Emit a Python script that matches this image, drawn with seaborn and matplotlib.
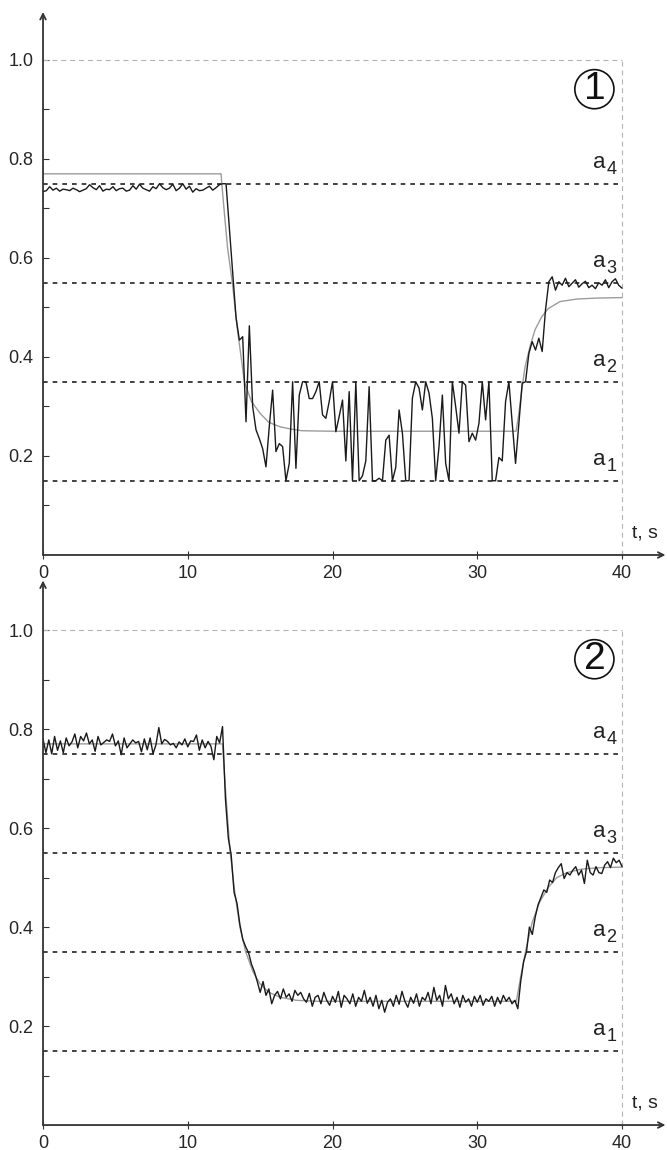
import numpy as np
import matplotlib
matplotlib.use("Agg")
import matplotlib.pyplot as plt
import seaborn as sns

# threshold levels a1..a4
levels = [0.15, 0.35, 0.55, 0.75]
level_names = ["1", "2", "3", "4"]
x_ticks = [0, 10, 20, 30, 40]
y_ticks = [0.2, 0.4, 0.6, 0.8, 1.0]
y_labels = ["0.2", "0.4", "0.6", "0.8", "1.0"]

# panel 1: measured signal (175 samples over 0..40 s)
p1_signal = [
    0.734, 0.736, 0.744, 0.737, 0.741, 0.735, 0.739, 0.738, 0.736, 0.741,
    0.738, 0.734, 0.737, 0.740, 0.748, 0.742, 0.738, 0.746, 0.735, 0.739,
    0.738, 0.744, 0.736, 0.740, 0.741, 0.735, 0.737, 0.746, 0.739, 0.749,
    0.741, 0.738, 0.735, 0.744, 0.740, 0.750, 0.742, 0.738, 0.741, 0.749,
    0.736, 0.741, 0.750, 0.739, 0.745, 0.733, 0.740, 0.736, 0.737, 0.741,
    0.745, 0.737, 0.742, 0.748, 0.750, 0.750, 0.660, 0.570, 0.480, 0.434,
    0.441, 0.269, 0.463, 0.300, 0.253, 0.235, 0.215, 0.178, 0.260, 0.333,
    0.209, 0.225, 0.219, 0.150, 0.185, 0.350, 0.175, 0.323, 0.350, 0.350,
    0.316, 0.316, 0.330, 0.350, 0.283, 0.276, 0.310, 0.350, 0.249, 0.280,
    0.313, 0.190, 0.330, 0.150, 0.350, 0.150, 0.160, 0.190, 0.340, 0.150,
    0.150, 0.155, 0.150, 0.232, 0.242, 0.150, 0.177, 0.293, 0.246, 0.150,
    0.150, 0.317, 0.350, 0.337, 0.293, 0.350, 0.327, 0.276, 0.150, 0.219,
    0.323, 0.185, 0.150, 0.350, 0.300, 0.246, 0.350, 0.343, 0.229, 0.246,
    0.232, 0.266, 0.350, 0.273, 0.350, 0.150, 0.150, 0.197, 0.190, 0.310,
    0.350, 0.266, 0.185, 0.266, 0.347, 0.350, 0.407, 0.431, 0.414, 0.438,
    0.411, 0.495, 0.552, 0.562, 0.535, 0.552, 0.545, 0.559, 0.542, 0.549,
    0.556, 0.541, 0.548, 0.553, 0.540, 0.545, 0.538, 0.550, 0.545, 0.556,
    0.540, 0.552, 0.558, 0.545, 0.539,
]
p1_time = np.linspace(0, 40, len(p1_signal))

# panel 1: model curve (grey)
p1_model_t = [0.0, 12.3, 12.35, 12.5, 12.75, 13.08, 13.41, 13.91, 14.4, 15.0,
              15.6, 16.37, 17.2, 17.9, 20.0, 32.68, 32.84, 33.07, 33.3, 33.64,
              33.99, 34.45, 34.91, 35.72, 36.87, 38.25, 40.0]
p1_model_y = [0.770, 0.770, 0.750, 0.700, 0.620, 0.550, 0.460, 0.350, 0.310, 0.286,
              0.268, 0.259, 0.254, 0.251, 0.250, 0.250, 0.279, 0.333, 0.380, 0.421,
              0.455, 0.481, 0.498, 0.512, 0.517, 0.519, 0.520]

# panel 2: measured signal (201 samples over 0..40 s)
p2_signal = [
    0.780, 0.752, 0.778, 0.750, 0.785, 0.757, 0.776, 0.752, 0.782, 0.766,
    0.774, 0.790, 0.762, 0.785, 0.776, 0.792, 0.770, 0.778, 0.755, 0.785,
    0.768, 0.773, 0.778, 0.775, 0.790, 0.766, 0.776, 0.748, 0.782, 0.762,
    0.770, 0.778, 0.772, 0.775, 0.754, 0.780, 0.758, 0.782, 0.750, 0.768,
    0.803, 0.770, 0.779, 0.775, 0.768, 0.771, 0.762, 0.774, 0.768, 0.780,
    0.764, 0.776, 0.775, 0.788, 0.757, 0.778, 0.762, 0.775, 0.765, 0.738,
    0.785, 0.772, 0.805, 0.660, 0.580, 0.545, 0.470, 0.448, 0.405, 0.375,
    0.360, 0.348, 0.325, 0.310, 0.290, 0.268, 0.290, 0.262, 0.275, 0.245,
    0.262, 0.270, 0.255, 0.275, 0.258, 0.265, 0.250, 0.272, 0.262, 0.268,
    0.255, 0.248, 0.266, 0.240, 0.258, 0.262, 0.245, 0.268, 0.252, 0.242,
    0.260, 0.248, 0.270, 0.238, 0.262, 0.255, 0.245, 0.265, 0.240, 0.258,
    0.250, 0.272, 0.246, 0.258, 0.240, 0.262, 0.235, 0.252, 0.228, 0.248,
    0.255, 0.240, 0.262, 0.244, 0.270, 0.250, 0.238, 0.258, 0.246, 0.265,
    0.240, 0.258, 0.252, 0.268, 0.245, 0.278, 0.252, 0.262, 0.240, 0.282,
    0.255, 0.265, 0.245, 0.258, 0.238, 0.262, 0.248, 0.255, 0.240, 0.260,
    0.248, 0.262, 0.242, 0.255, 0.250, 0.260, 0.240, 0.258, 0.245, 0.262,
    0.250, 0.258, 0.245, 0.252, 0.235, 0.290, 0.330, 0.350, 0.400, 0.385,
    0.420, 0.445, 0.460, 0.475, 0.470, 0.495, 0.490, 0.510, 0.520, 0.528,
    0.498, 0.510, 0.505, 0.515, 0.522, 0.505, 0.515, 0.488, 0.535, 0.510,
    0.505, 0.522, 0.510, 0.508, 0.525, 0.532, 0.520, 0.539, 0.530, 0.535,
    0.522,
]
p2_time = np.linspace(0, 40, len(p2_signal))

# panel 2: model curve (grey)
p2_model_t = [0.0, 12.4, 12.6, 12.9, 13.2, 13.6, 14.0, 14.5, 15.0, 15.6,
              16.4, 17.5, 19.0, 32.7, 33.0, 33.4, 33.8, 34.3, 34.9, 35.5,
              36.2, 37.2, 38.5, 40.0]
p2_model_y = [0.770, 0.770, 0.680, 0.560, 0.480, 0.400, 0.350, 0.310, 0.285, 0.268,
              0.258, 0.252, 0.250, 0.250, 0.300, 0.360, 0.410, 0.450, 0.480, 0.500,
              0.510, 0.517, 0.520, 0.521]

sns.set_style("white")
plt.rcParams['font.family'] = ['Liberation Sans', 'DejaVu Sans']

fig = plt.figure(figsize=(6.67, 11.5), dpi=100)
ax1 = fig.add_axes([0.0645, 0.5174, 0.9332, 0.4722])
ax2 = fig.add_axes([0.0645, 0.0217, 0.9332, 0.4735])


def draw_panel(ax, t, y, gt, gy, num, ytop):
    ax.set_xlim(0, 43)
    ax.set_ylim(0, ytop)
    for s in ax.spines.values():
        s.set_visible(False)

    grid_kw = dict(color='#b4b4b4', lw=0.8, ls=(0, (4.5, 3.5)))
    ax.plot([0, 40], [1, 1], **grid_kw)
    ax.plot([40, 40], [0, 1], **grid_kw)

    for lv, nm in zip(levels, level_names):
        ax.plot([0, 40], [lv, lv], color='#222222', lw=1.2, ls=(0, (2.8, 3.0)))
        ax.text(38.45, lv + 0.031, 'a', ha='center', va='baseline', fontsize=16, color='#222222')
        ax.text(39.25, lv + 0.019, nm, ha='center', va='baseline', fontsize=13, color='#222222')

    sns.lineplot(x=gt, y=gy, ax=ax, color='#9c9c9c', lw=1.0, estimator=None, sort=False)
    sns.lineplot(x=t, y=y, ax=ax, color='#1a1a1a', lw=1.0, estimator=None)

    arrow = dict(arrowstyle='->', color='#333333', lw=1.3, shrinkA=0, shrinkB=0)
    ax.annotate('', xy=(0, ytop), xytext=(0, 0), arrowprops=arrow, annotation_clip=False)
    ax.annotate('', xy=(43, 0), xytext=(0, 0), arrowprops=arrow, annotation_clip=False)

    ax.set_xticks(x_ticks)
    ax.set_xticklabels([str(v) for v in x_ticks])
    ax.set_yticks(y_ticks)
    ax.set_yticklabels(y_labels)
    ax.set_yticks([0.1, 0.3, 0.5, 0.7, 0.9], minor=True)
    ax.tick_params(axis='x', direction='inout', length=6, width=0.8, color='#333333',
                   labelsize=13, pad=4, bottom=True)
    ax.tick_params(axis='y', which='both', direction='in', length=4, width=0.8,
                   color='#333333', labelsize=13, pad=7, left=True)
    ax.set_xlabel('')
    ax.set_ylabel('')

    ax.text(40.7, 0.035, 't, s', fontsize=14, ha='left', va='baseline', color='#222222')
    ax.text(38.09, 0.941, num, fontsize=28, ha='center', va='center', color='#111111',
            bbox=dict(boxstyle='circle,pad=0.04', fc='none', ec='#111111', lw=1.2))


draw_panel(ax1, p1_time, p1_signal, p1_model_t, p1_model_y, "1", 1.097)
draw_panel(ax2, p2_time, p2_signal, p2_model_t, p2_model_y, "2", 1.10)

fig.savefig("out.png", dpi=100)
